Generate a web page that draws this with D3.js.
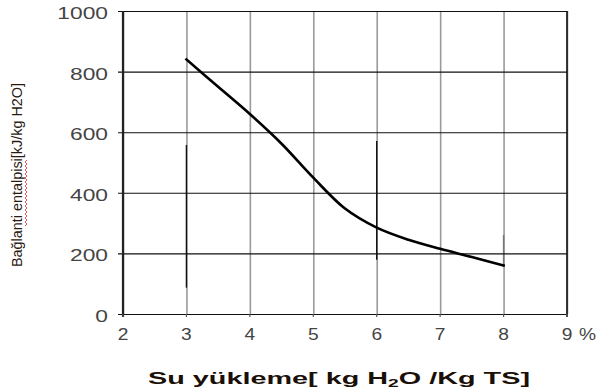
<!DOCTYPE html>
<html>
<head>
<meta charset="utf-8">
<script src="https://cdn.jsdelivr.net/npm/d3@7"></script>
<style>
  body { margin: 0; background: #fff; }
  svg { display: block; }
</style>
</head>
<body>
<div class="chart"></div>
<script>
// curve
var suYukleme = [3, 3.5, 4, 4.5, 5, 5.5, 6, 6.5, 7, 7.5, 8];
var entalpi   = [840, 750, 660, 562, 450, 348, 285, 245, 215, 188, 160];

var xTicks = [2, 3, 4, 5, 6, 7, 8, 9];
var yTicks = [0, 200, 400, 600, 800, 1000];

// darker pieces of some vertical grid lines (as in the scan)
var darkX  = [3, 6, 8];
var darkY0 = [87, 179, 156];
var darkY1 = [558, 571, 261];

var W = 597, H = 392;
var plotL = 123, plotR = 567, plotT = 11, plotB = 314;

var svg = d3.select(".chart").append("svg")
  .attr("width", W).attr("height", H);

var x = d3.scaleLinear().domain([2, 9]).range([plotL, plotR]);
var y = d3.scaleLinear().domain([0, 1000]).range([plotB, plotT]);

// vertical grid (gray)
svg.append("g")
  .attr("transform", "translate(0," + plotB + ")")
  .call(d3.axisBottom(x).tickValues(xTicks).tickSize(-(plotB - plotT)).tickFormat(""))
  .call(function(g) { g.select(".domain").remove(); })
  .selectAll("line")
    .attr("stroke", "#9a9a9a")
    .attr("stroke-width", 1.6);

svg.append("g").selectAll("line")
  .data(darkX)
  .enter().append("line")
    .attr("x1", function(d) { return x(d); })
    .attr("x2", function(d) { return x(d); })
    .attr("y1", function(d, i) { return y(darkY0[i]); })
    .attr("y2", function(d, i) { return y(darkY1[i]); })
    .attr("stroke", function(d, i) { return i == 2 ? "#777" : "#111"; })
    .attr("stroke-width", 1.4);

// horizontal grid (black)
svg.append("g")
  .attr("transform", "translate(" + plotR + ",0)")
  .call(d3.axisLeft(y).tickValues(yTicks).tickSize(plotR - plotL + 5).tickFormat(""))
  .call(function(g) { g.select(".domain").remove(); })
  .selectAll("line")
    .attr("stroke", "#111")
    .attr("stroke-width", 1.1);

// frame: left axis + right edge
svg.append("line")
  .attr("x1", plotL).attr("x2", plotL).attr("y1", plotT).attr("y2", plotB + 3)
  .attr("stroke", "#222").attr("stroke-width", 2.2);
svg.append("line")
  .attr("x1", plotR).attr("x2", plotR).attr("y1", plotT).attr("y2", plotB + 3)
  .attr("stroke", "#111").attr("stroke-width", 1.6);

// x tick marks below axis
svg.append("g").selectAll("line")
  .data(xTicks)
  .enter().append("line")
    .attr("x1", function(d) { return x(d); })
    .attr("x2", function(d) { return x(d); })
    .attr("y1", plotB).attr("y2", plotB + 3)
    .attr("stroke", "#555").attr("stroke-width", 1.2);

// tick labels
svg.append("g").selectAll("g")
  .data(yTicks)
  .enter().append("g")
    .attr("transform", function(d) { return "translate(108," + (y(d) + 8) + ")"; })
  .append("text")
    .attr("transform", "scale(1.38,1)")
    .attr("text-anchor", "end")
    .attr("font-family", "Liberation Sans, Arial, sans-serif")
    .attr("font-size", 16.5)
    .attr("fill", "#444")
    .text(function(d) { return d; });

svg.append("g").selectAll("g")
  .data(xTicks)
  .enter().append("g")
    .attr("transform", function(d) { return "translate(" + x(d) + ",340)"; })
  .append("text")
    .attr("transform", "scale(1.2,1)")
    .attr("text-anchor", "middle")
    .attr("font-family", "Liberation Sans, Arial, sans-serif")
    .attr("font-size", 16)
    .attr("fill", "#444")
    .text(function(d) { return d; });

svg.append("g")
  .attr("transform", "translate(" + (x(9) + 12) + ",340)")
  .append("text")
    .attr("transform", "scale(1.2,1)")
    .attr("font-family", "Liberation Sans, Arial, sans-serif")
    .attr("font-size", 16)
    .attr("fill", "#444")
    .text("%");

// the curve
var line = d3.line()
  .x(function(d, i) { return x(suYukleme[i]); })
  .y(function(d) { return y(d); })
  .curve(d3.curveCatmullRom.alpha(0.5));

svg.append("path")
  .attr("d", line(entalpi))
  .attr("fill", "none")
  .attr("stroke", "#000")
  .attr("stroke-width", 2.6)
  .attr("stroke-linecap", "square");

// axis titles
var xt = svg.append("text")
  .attr("x", 148).attr("y", 384)
  .attr("font-family", "Liberation Sans, Arial, sans-serif")
  .attr("font-size", 16.5)
  .attr("font-weight", "bold")
  .attr("fill", "#1a1008")
  .attr("textLength", 382)
  .attr("lengthAdjust", "spacingAndGlyphs");
xt.append("tspan").text("Su yükleme[ kg H");
xt.append("tspan").attr("font-size", 11).attr("dy", 3).text("2");
xt.append("tspan").attr("dy", -3).text("O /Kg TS]");

svg.append("text")
  .attr("transform", "translate(22,267) rotate(-90)")
  .attr("font-family", "Liberation Sans, Arial, sans-serif")
  .attr("font-size", 14)
  .attr("fill", "#2a1a12")
  .attr("textLength", 184)
  .attr("lengthAdjust", "spacingAndGlyphs")
  .text("Bağlanti entalpisi[kJ/kg H2O]");

// red squiggle under "entalpisi"
var sq = d3.range(0, 34).map(function(i) { return [25 + (i % 2) * 2, 226 - i * 2]; });
svg.append("path")
  .attr("d", d3.line()(sq))
  .attr("fill", "none")
  .attr("stroke", "#e03030")
  .attr("stroke-width", 0.8);
</script>
</body>
</html>
